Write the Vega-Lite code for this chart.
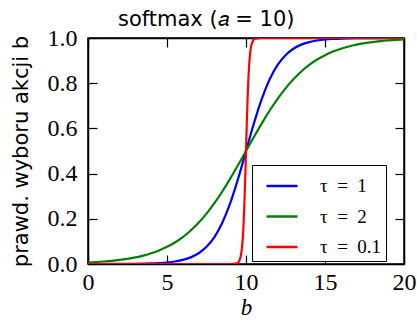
{
  "$schema": "https://vega.github.io/schema/vega-lite/v6.json",
  "width": 316,
  "height": 226,
  "autosize": {"type": "none"},
  "padding": {"left": 88, "top": 38, "right": 13, "bottom": 57},
  "background": "white",
  "title": {
    "text": "softmax (𝑎 = 10)",
    "font": "DejaVu Sans",
    "fontSize": 21,
    "fontWeight": "normal",
    "anchor": "start",
    "frame": "group",
    "dx": 30,
    "offset": -4,
    "color": "black"
  },
  "config": {
    "view": {"stroke": "black", "strokeWidth": 1.5},
    "axis": {
      "grid": false,
      "domainColor": "black",
      "domainWidth": 1.5,
      "tickColor": "black",
      "tickWidth": 1.2,
      "tickSize": -9,
      "labelFlush": false,
      "labelOverlap": false,
      "labelFont": "Liberation Serif",
      "labelFontSize": 24,
      "labelColor": "black",
      "titleColor": "black",
      "titleFontWeight": "normal"
    }
  },
  "data": {
    "values": [
      {"b": 0, "p": 0.0000454, "tau": "τ = 1"},
      {"b": 1, "p": 0.000123, "tau": "τ = 1"},
      {"b": 2, "p": 0.000335, "tau": "τ = 1"},
      {"b": 3, "p": 0.000911, "tau": "τ = 1"},
      {"b": 4, "p": 0.00247, "tau": "τ = 1"},
      {"b": 4.5, "p": 0.00407, "tau": "τ = 1"},
      {"b": 5, "p": 0.00669, "tau": "τ = 1"},
      {"b": 5.5, "p": 0.01099, "tau": "τ = 1"},
      {"b": 6, "p": 0.01799, "tau": "τ = 1"},
      {"b": 6.5, "p": 0.02931, "tau": "τ = 1"},
      {"b": 7, "p": 0.04743, "tau": "τ = 1"},
      {"b": 7.5, "p": 0.07586, "tau": "τ = 1"},
      {"b": 8, "p": 0.1192, "tau": "τ = 1"},
      {"b": 8.5, "p": 0.1824, "tau": "τ = 1"},
      {"b": 9, "p": 0.2689, "tau": "τ = 1"},
      {"b": 9.5, "p": 0.3775, "tau": "τ = 1"},
      {"b": 10, "p": 0.5, "tau": "τ = 1"},
      {"b": 10.5, "p": 0.6225, "tau": "τ = 1"},
      {"b": 11, "p": 0.7311, "tau": "τ = 1"},
      {"b": 11.5, "p": 0.8176, "tau": "τ = 1"},
      {"b": 12, "p": 0.8808, "tau": "τ = 1"},
      {"b": 12.5, "p": 0.9241, "tau": "τ = 1"},
      {"b": 13, "p": 0.9526, "tau": "τ = 1"},
      {"b": 13.5, "p": 0.9707, "tau": "τ = 1"},
      {"b": 14, "p": 0.982, "tau": "τ = 1"},
      {"b": 14.5, "p": 0.989, "tau": "τ = 1"},
      {"b": 15, "p": 0.9933, "tau": "τ = 1"},
      {"b": 15.5, "p": 0.9959, "tau": "τ = 1"},
      {"b": 16, "p": 0.99753, "tau": "τ = 1"},
      {"b": 17, "p": 0.99909, "tau": "τ = 1"},
      {"b": 18, "p": 0.99966, "tau": "τ = 1"},
      {"b": 19, "p": 0.99988, "tau": "τ = 1"},
      {"b": 20, "p": 0.99995, "tau": "τ = 1"},

      {"b": 0, "p": 0.00669, "tau": "τ = 2"},
      {"b": 0.5, "p": 0.00858, "tau": "τ = 2"},
      {"b": 1, "p": 0.01099, "tau": "τ = 2"},
      {"b": 1.5, "p": 0.01406, "tau": "τ = 2"},
      {"b": 2, "p": 0.01799, "tau": "τ = 2"},
      {"b": 2.5, "p": 0.02298, "tau": "τ = 2"},
      {"b": 3, "p": 0.02931, "tau": "τ = 2"},
      {"b": 3.5, "p": 0.03733, "tau": "τ = 2"},
      {"b": 4, "p": 0.04743, "tau": "τ = 2"},
      {"b": 4.5, "p": 0.0601, "tau": "τ = 2"},
      {"b": 5, "p": 0.07586, "tau": "τ = 2"},
      {"b": 5.5, "p": 0.0953, "tau": "τ = 2"},
      {"b": 6, "p": 0.1192, "tau": "τ = 2"},
      {"b": 6.5, "p": 0.148, "tau": "τ = 2"},
      {"b": 7, "p": 0.1824, "tau": "τ = 2"},
      {"b": 7.5, "p": 0.2227, "tau": "τ = 2"},
      {"b": 8, "p": 0.2689, "tau": "τ = 2"},
      {"b": 8.5, "p": 0.3208, "tau": "τ = 2"},
      {"b": 9, "p": 0.3775, "tau": "τ = 2"},
      {"b": 9.5, "p": 0.4378, "tau": "τ = 2"},
      {"b": 10, "p": 0.5, "tau": "τ = 2"},
      {"b": 10.5, "p": 0.5622, "tau": "τ = 2"},
      {"b": 11, "p": 0.6225, "tau": "τ = 2"},
      {"b": 11.5, "p": 0.6792, "tau": "τ = 2"},
      {"b": 12, "p": 0.7311, "tau": "τ = 2"},
      {"b": 12.5, "p": 0.7773, "tau": "τ = 2"},
      {"b": 13, "p": 0.8176, "tau": "τ = 2"},
      {"b": 13.5, "p": 0.852, "tau": "τ = 2"},
      {"b": 14, "p": 0.8808, "tau": "τ = 2"},
      {"b": 14.5, "p": 0.9047, "tau": "τ = 2"},
      {"b": 15, "p": 0.9241, "tau": "τ = 2"},
      {"b": 15.5, "p": 0.9399, "tau": "τ = 2"},
      {"b": 16, "p": 0.9526, "tau": "τ = 2"},
      {"b": 16.5, "p": 0.9626, "tau": "τ = 2"},
      {"b": 17, "p": 0.9707, "tau": "τ = 2"},
      {"b": 17.5, "p": 0.977, "tau": "τ = 2"},
      {"b": 18, "p": 0.982, "tau": "τ = 2"},
      {"b": 18.5, "p": 0.9859, "tau": "τ = 2"},
      {"b": 19, "p": 0.989, "tau": "τ = 2"},
      {"b": 19.5, "p": 0.9914, "tau": "τ = 2"},
      {"b": 20, "p": 0.9933, "tau": "τ = 2"},

      {"b": 0, "p": 0.0, "tau": "τ = 0.1"},
      {"b": 9, "p": 0.0000454, "tau": "τ = 0.1"},
      {"b": 9.4, "p": 0.00247, "tau": "τ = 0.1"},
      {"b": 9.5, "p": 0.00669, "tau": "τ = 0.1"},
      {"b": 9.6, "p": 0.01799, "tau": "τ = 0.1"},
      {"b": 9.65, "p": 0.02931, "tau": "τ = 0.1"},
      {"b": 9.7, "p": 0.04743, "tau": "τ = 0.1"},
      {"b": 9.75, "p": 0.07586, "tau": "τ = 0.1"},
      {"b": 9.8, "p": 0.1192, "tau": "τ = 0.1"},
      {"b": 9.85, "p": 0.1824, "tau": "τ = 0.1"},
      {"b": 9.9, "p": 0.2689, "tau": "τ = 0.1"},
      {"b": 9.95, "p": 0.3775, "tau": "τ = 0.1"},
      {"b": 10, "p": 0.5, "tau": "τ = 0.1"},
      {"b": 10.05, "p": 0.6225, "tau": "τ = 0.1"},
      {"b": 10.1, "p": 0.7311, "tau": "τ = 0.1"},
      {"b": 10.15, "p": 0.8176, "tau": "τ = 0.1"},
      {"b": 10.2, "p": 0.8808, "tau": "τ = 0.1"},
      {"b": 10.25, "p": 0.9241, "tau": "τ = 0.1"},
      {"b": 10.3, "p": 0.9526, "tau": "τ = 0.1"},
      {"b": 10.35, "p": 0.9707, "tau": "τ = 0.1"},
      {"b": 10.4, "p": 0.982, "tau": "τ = 0.1"},
      {"b": 10.5, "p": 0.9933, "tau": "τ = 0.1"},
      {"b": 10.6, "p": 0.99753, "tau": "τ = 0.1"},
      {"b": 11, "p": 0.99995, "tau": "τ = 0.1"},
      {"b": 20, "p": 1.0, "tau": "τ = 0.1"}
    ]
  },
  "layer": [
    {
      "mark": {"type": "line", "strokeWidth": 2.2, "interpolate": "monotone", "clip": true},
      "encoding": {
        "x": {
          "field": "b", "type": "quantitative",
          "scale": {"domain": [0, 20], "nice": false},
          "axis": {
            "values": [0, 5, 10, 15, 20],
            "labelPadding": 15,
            "title": "b",
            "titleFont": "Liberation Serif",
            "titleFontStyle": "italic",
            "titleFontSize": 23,
            "titlePadding": 2
          }
        },
        "y": {
          "field": "p", "type": "quantitative",
          "scale": {"domain": [0, 1], "nice": false, "zero": false},
          "axis": {
            "values": [0, 0.2, 0.4, 0.6, 0.8, 1.0],
            "format": ".1f",
            "labelPadding": 20,
            "title": "prawd. wyboru akcji b",
            "titleFont": "DejaVu Sans",
            "titleFontSize": 21,
            "titlePadding": 16
          }
        },
        "color": {
          "field": "tau", "type": "nominal",
          "scale": {"domain": ["τ = 1", "τ = 2", "τ = 0.1"], "range": ["#0000ff", "#008000", "#ff0000"]},
          "legend": {
            "title": null,
            "orient": "none",
            "legendX": 164,
            "legendY": 127,
            "direction": "vertical",
            "symbolType": "stroke",
            "symbolSize": 961,
            "symbolStrokeWidth": 2.5,
            "symbolOffset": 9,
            "labelFont": "Liberation Serif",
            "labelFontSize": 19,
            "labelColor": "black",
            "labelOffset": 21,
            "labelExpr": "replace(datum.label, ' = ', '\u2002=\u2002') + '\u2002\u2002'",
            "rowPadding": 3.5,
            "padding": 4,
            "strokeColor": "black",
            "fillColor": "white",
            "cornerRadius": 0
          }
        },
        "order": {"field": "b", "type": "quantitative"}
      }
    },
    {
      "mark": {"type": "point", "opacity": 0},
      "encoding": {
        "x": {
          "field": "b", "type": "quantitative",
          "axis": {"orient": "top", "values": [0, 5, 10, 15, 20], "labels": false, "title": null}
        },
        "y": {
          "field": "p", "type": "quantitative",
          "axis": {"orient": "right", "values": [0, 0.2, 0.4, 0.6, 0.8, 1.0], "labels": false, "title": null}
        }
      }
    }
  ],
  "resolve": {"axis": {"x": "independent", "y": "independent"}}
}
